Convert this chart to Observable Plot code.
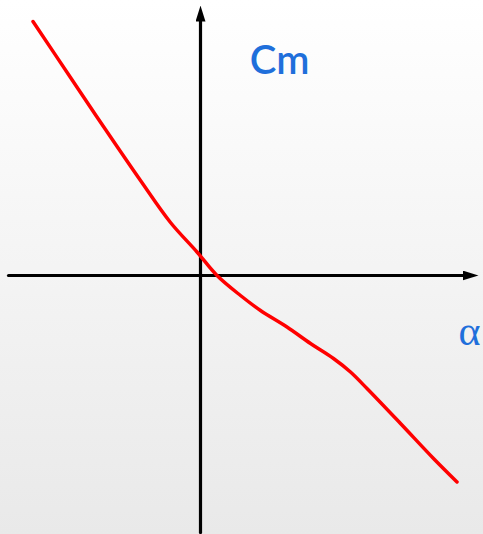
<!DOCTYPE html>
<html>
<head>
<meta charset="utf-8">
<script src="https://cdn.jsdelivr.net/npm/d3@7"></script>
<script src="https://cdn.jsdelivr.net/npm/@observablehq/plot@0.6"></script>
<style>
  html, body { margin: 0; padding: 0; }
  body { width: 483px; height: 534px; overflow: hidden;
         background: linear-gradient(to bottom, #ffffff 0%, #e9e9e9 100%); }
  svg { display: block; background: transparent !important; }
</style>
</head>
<body>
<div id="chart"></div>
<script>
// Cm vs alpha curve (arbitrary units)
const alpha = [-3.35, -2.6, -1.9, -1.2, -0.6, -0.07, 0.33, 0.8, 1.2, 1.73, 2.2, 2.66, 3.0, 3.33, 4.0, 4.66, 5.13];
const cm    = [5.08, 3.96, 2.92, 1.9, 1.06, 0.47, 0, -0.4, -0.7, -1.03, -1.36, -1.66, -1.93, -2.26, -2.96, -3.66, -4.13];

// axis extents
const xAxisExtent = [-3.84, 5.58];
const yAxisExtent = [-5.14, 5.42];

// labels
const labelText = ["Cm", "α"];
const labelX = [1.58, 5.16];
const labelY = [4.28, -1.12];

const curve = alpha.map((a, i) => ({a, c: cm[i]}));

function filledArrow(color, context) {
  const m = document.createElementNS("http://www.w3.org/2000/svg", "marker");
  m.setAttribute("viewBox", "0 -5 16 10");
  m.setAttribute("markerWidth", "16");
  m.setAttribute("markerHeight", "10");
  m.setAttribute("markerUnits", "userSpaceOnUse");
  m.setAttribute("refX", "2");
  m.setAttribute("refY", "0");
  m.setAttribute("orient", "auto");
  const p = document.createElementNS("http://www.w3.org/2000/svg", "path");
  p.setAttribute("d", "M0,-5L16,0L0,5Z");
  p.setAttribute("fill", "black");
  p.setAttribute("stroke", "none");
  m.appendChild(p);
  return m;
}

const plot = Plot.plot({
  width: 483,
  height: 534,
  margin: 0,
  style: {background: "transparent", overflow: "visible"},
  x: {domain: [-4, 5.66], axis: null},
  y: {domain: [-5.18, 5.5], axis: null},
  marks: [
    Plot.line([{x: xAxisExtent[0], y: 0}, {x: xAxisExtent[1] - 0.3, y: 0}], {x: "x", y: "y", stroke: "black", strokeWidth: 3.2, markerEnd: filledArrow}),
    Plot.line([{x: 0, y: yAxisExtent[0]}, {x: 0, y: yAxisExtent[1] - 0.3}], {x: "x", y: "y", stroke: "black", strokeWidth: 3.2, markerEnd: filledArrow}),
    Plot.line(curve, {x: "a", y: "c", stroke: "#ff0000", strokeWidth: 3.5, curve: "catmull-rom"}),
    Plot.text([0], {x: () => labelX[0], y: () => labelY[0], text: () => labelText[0], fill: "#1f6fdb", fontSize: 40, fontFamily: "Lato, 'Open Sans', sans-serif", fontWeight: 600}),
    Plot.text([0], {x: () => labelX[1], y: () => labelY[1], text: () => labelText[1], textAnchor: "start", fill: "#1f6fdb", fontSize: 42, fontFamily: "'Liberation Serif', 'DejaVu Serif', serif"})
  ]
});
document.getElementById("chart").appendChild(plot);
</script>
</body>
</html>
